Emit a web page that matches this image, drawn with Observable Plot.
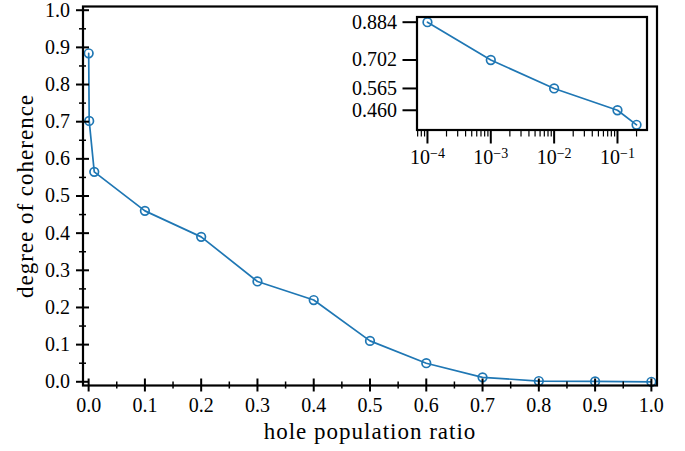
<!DOCTYPE html>
<html><head><meta charset="utf-8">
<script src="https://cdn.jsdelivr.net/npm/d3@7"></script>
<script src="https://cdn.jsdelivr.net/npm/@observablehq/plot@0.6"></script>
<style>
body{margin:0;background:#fff;}
#wrap{position:relative;width:685px;height:451px;}
#wrap svg{position:absolute;left:0;top:0;}
g[aria-label="text"] text{letter-spacing:1px;}
</style></head><body><div id="wrap"></div>
<script>
// main series
const ratio = [0.0001, 0.001, 0.01, 0.1, 0.2, 0.3, 0.4, 0.5, 0.6, 0.7, 0.8, 0.9, 1.0];
const coherence = [0.884, 0.702, 0.565, 0.460, 0.390, 0.270, 0.220, 0.110, 0.050, 0.012, 0.002, 0.001, 0.000];
// inset series (log x)
const insetRatio = [0.0001, 0.001, 0.01, 0.1, 0.2];
const insetCoherence = [0.884, 0.702, 0.565, 0.460, 0.390];
// ticks
const xTicks = [0, 0.1, 0.2, 0.3, 0.4, 0.5, 0.6, 0.7, 0.8, 0.9, 1.0];
const xMinor = [0.05, 0.15, 0.25, 0.35, 0.45, 0.55, 0.65, 0.75, 0.85, 0.95];
const yTicks = [0, 0.1, 0.2, 0.3, 0.4, 0.5, 0.6, 0.7, 0.8, 0.9, 1.0];
const yMinor = [0.05, 0.15, 0.25, 0.35, 0.45, 0.55, 0.65, 0.75, 0.85, 0.95];
const insetYTicks = [0.884, 0.702, 0.565, 0.460];
const insetXTicks = [1e-4, 1e-3, 1e-2, 1e-1];
const insetXExp = ["−4", "−3", "−2", "−1"];
const minorMantissa = [2, 3, 4, 5, 6, 7, 8, 9];
const decades = [1e-5, 1e-4, 1e-3, 1e-2, 1e-1];
const xLabel = "hole population ratio";
const yLabel = "degree of coherence";

const blue = "#1f77b4";
const font = "'Liberation Serif', 'Times New Roman', serif";
const data = ratio.map((r, i) => ({r, c: coherence[i]}));
const insetData = insetRatio.map((r, i) => ({r, c: insetCoherence[i]}));
const xLo = 10 ** -4.165, xHi = 10 ** -0.534;
const insetXMinor = decades.flatMap(d => minorMantissa.map(m => m * d)).filter(v => v > xLo && v < xHi);

const main = Plot.plot({
  width: 685, height: 451,
  marginLeft: 82.5, marginRight: 28.5, marginTop: 6, marginBottom: 66,
  style: {fontFamily: font, fontSize: "20px", background: "transparent", overflow: "visible"},
  x: {domain: [-0.01, 1.01], label: null},
  y: {domain: [-0.01, 1.01], label: null},
  marks: [
    Plot.line(data, {x: "r", y: "c", stroke: blue, strokeWidth: 1.7}),
    Plot.dot(data, {x: "r", y: "c", r: 4.3, stroke: blue, strokeWidth: 1.7, fill: "none"}),
    Plot.frame({stroke: "black", strokeWidth: 2.2}),
    Plot.axisX(xTicks, {tickSize: 13, dy: -6.5, tickFormat: () => "", strokeWidth: 2, label: null}),
    Plot.axisX(xMinor, {tickSize: 7, dy: -3.5, tickFormat: () => "", strokeWidth: 1.5, label: null}),
    Plot.axisX(xTicks, {tickSize: 0, tickPadding: 12, tickFormat: d3.format(".1f"), label: null}),
    Plot.axisY(yTicks, {tickSize: 13, dx: 6.5, tickFormat: () => "", strokeWidth: 2, label: null}),
    Plot.axisY(yMinor, {tickSize: 7, dx: 3.5, tickFormat: () => "", strokeWidth: 1.5, label: null}),
    Plot.axisY(yTicks, {tickSize: 0, tickPadding: 13, tickFormat: d3.format(".1f"), label: null}),
    Plot.text([xLabel], {text: d => d, frameAnchor: "bottom", textAnchor: "middle", dy: 46.6, lineAnchor: "middle", fontSize: 23}),
    Plot.text([yLabel], {text: d => d, frameAnchor: "left", textAnchor: "middle", dx: -57.7, rotate: -90, lineAnchor: "middle", fontSize: 23})
  ]
});

const inset = Plot.plot({
  width: 685, height: 451,
  marginLeft: 416.5, marginRight: 38.5, marginTop: 16.5, marginBottom: 321.5,
  style: {fontFamily: font, fontSize: "20px", background: "transparent", overflow: "visible"},
  x: {type: "log", domain: [xLo, xHi], label: null},
  y: {domain: [0.365, 0.909], label: null},
  marks: [
    Plot.frame({fill: "white"}),
    Plot.line(insetData, {x: "r", y: "c", stroke: blue, strokeWidth: 1.7}),
    Plot.dot(insetData, {x: "r", y: "c", r: 4.3, stroke: blue, strokeWidth: 1.7, fill: "none"}),
    Plot.axisY(insetYTicks, {tickSize: 14, tickPadding: 6, tickFormat: d3.format(".3f"), strokeWidth: 2, label: null}),
    Plot.axisX(insetXTicks, {tickSize: 14, tickPadding: 6, tickFormat: d => "10^" + insetXExp[insetXTicks.indexOf(d)], strokeWidth: 2, label: null}),
    Plot.axisX(insetXMinor, {tickSize: 7, tickFormat: () => "", strokeWidth: 1.2, label: null}),
    Plot.frame({stroke: "black", strokeWidth: 2.2})
  ]
});

inset.querySelectorAll('g[aria-label="x-axis tick label"] text').forEach(t => {
  const s = t.textContent;
  if (!s || s.indexOf("^") < 0) return;
  const [base, exp] = s.split("^");
  t.textContent = base;
  const ts = document.createElementNS("http://www.w3.org/2000/svg", "tspan");
  ts.setAttribute("dy", "-0.42em");
  ts.setAttribute("font-size", "14");
  ts.textContent = exp;
  t.appendChild(ts);
});

const wrap = document.getElementById("wrap");
wrap.appendChild(main);
wrap.appendChild(inset);
</script>
</body></html>
